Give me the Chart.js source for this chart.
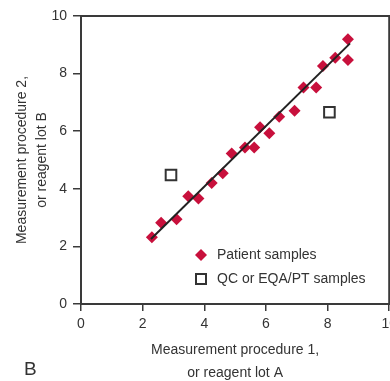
<!DOCTYPE html>
<html lang="en">
<head>
  <meta charset="UTF-8" />
  <title>Method comparison</title>
  <script src="https://cdn.jsdelivr.net/npm/chart.js"></script>
  <style>
    html, body { margin: 0; padding: 0; background: #fff; overflow: hidden; }
    /* canvas is a little wider than the window so the last x label gets cut like in the original */
    .wrap { position: relative; width: 390px; height: 381px; overflow: hidden; }
    .panel-label {
      position: absolute;
      left: 24px;
      top: 358px;
      font: 19px 'Liberation Sans', Arial, sans-serif;
      color: #333;
    }
  </style>
</head>
<body>
  <div class="wrap">
    <canvas id="chart" width="402" height="381"></canvas>
    <div class="panel-label">B</div>
  </div>

  <script>
    // values
    const patientX = [2.30, 2.60, 3.10, 3.48, 3.81, 4.24, 4.60, 4.89, 5.32, 5.62, 5.81, 6.11, 6.43, 6.93, 7.22, 7.63, 7.85, 8.25, 8.66, 8.66];
    const patientY = [2.32, 2.82, 2.94, 3.74, 3.66, 4.20, 4.54, 5.23, 5.43, 5.43, 6.14, 5.93, 6.50, 6.71, 7.52, 7.52, 8.26, 8.55, 9.19, 8.47];
    const qcX = [2.92, 8.06];
    const qcY = [4.48, 6.66];
    const fitX = [2.27, 8.73];
    const fitY = [2.26, 9.05];
    const axisTicks = [0, 2, 4, 6, 8, 10];

    const toPoints = (xs, ys) => xs.map((x, i) => ({ x: x, y: ys[i] }));

    const crimson = '#c8103c';
    const ink = '#333';
    const font = "'Liberation Sans', Arial, sans-serif";

    // box round the plot + legend inside it
    const frameAndLegend = {
      id: 'frameAndLegend',
      beforeDatasetsDraw(chart) {
        const { ctx, chartArea: a } = chart;
        ctx.save();
        ctx.strokeStyle = '#3a3a3a';
        ctx.lineWidth = 2;
        ctx.strokeRect(a.left, a.top, a.right - a.left, a.bottom - a.top);
        ctx.restore();
      },
      afterDraw(chart) {
        const ctx = chart.ctx;
        ctx.save();
        ctx.fillStyle = crimson;
        ctx.beginPath();
        ctx.moveTo(195, 255); ctx.lineTo(201, 249); ctx.lineTo(207, 255); ctx.lineTo(201, 261);
        ctx.closePath();
        ctx.fill();
        ctx.strokeStyle = ink;
        ctx.lineWidth = 2;
        ctx.fillStyle = '#fff';
        ctx.fillRect(196, 274, 10, 10);
        ctx.strokeRect(196, 274, 10, 10);
        ctx.fillStyle = ink;
        ctx.font = '14px ' + font;
        ctx.textBaseline = 'middle';
        ctx.fillText('Patient samples', 217, 255);
        ctx.fillText('QC or EQA/PT samples', 217, 279);
        ctx.restore();
      }
    };

    new Chart(document.getElementById('chart'), {
      type: 'scatter',
      data: {
        datasets: [
          {
            type: 'line',
            label: 'Fit',
            data: toPoints(fitX, fitY),
            borderColor: '#222',
            borderWidth: 2,
            pointRadius: 0,
            order: 0
          },
          {
            label: 'Patient samples',
            data: toPoints(patientX, patientY),
            pointStyle: 'rectRot',
            pointRadius: 6,
            backgroundColor: crimson,
            borderColor: crimson,
            borderWidth: 0,
            order: 1
          },
          {
            label: 'QC or EQA/PT samples',
            data: toPoints(qcX, qcY),
            pointStyle: 'rect',
            pointRadius: 7.5,
            backgroundColor: '#fff',
            borderColor: ink,
            borderWidth: 2,
            order: 1
          }
        ]
      },
      options: {
        responsive: false,
        animation: false,
        layout: { padding: { top: 16, right: 0, left: 0, bottom: 0 } },
        plugins: {
          legend: { display: false },
          tooltip: { enabled: false }
        },
        scales: {
          x: {
            type: 'linear',
            min: 0,
            max: 10,
            afterBuildTicks: (s) => { s.ticks = axisTicks.map(v => ({ value: v })); },
            afterFit: (s) => { s.height = 77; },
            grid: { drawOnChartArea: false, drawTicks: true, tickLength: 7, color: '#3a3a3a', lineWidth: 1.5 },
            border: { display: true, color: '#3a3a3a', width: 2 },
            ticks: { color: ink, padding: 5, font: { size: 14, family: font } },
            title: {
              display: true,
              text: ['Measurement procedure 1,', 'or reagent lot A'],
              color: ink,
              font: { size: 14, family: font, lineHeight: 1.6 },
              padding: { top: 0, bottom: -3 }
            }
          },
          y: {
            type: 'linear',
            min: 0,
            max: 10,
            afterBuildTicks: (s) => { s.ticks = axisTicks.map(v => ({ value: v })); },
            afterFit: (s) => { s.width = 81; },
            grid: { drawOnChartArea: false, drawTicks: true, tickLength: 8, color: '#3a3a3a', lineWidth: 1.5 },
            border: { display: true, color: '#3a3a3a', width: 2 },
            ticks: { color: ink, padding: 6, font: { size: 14, family: font } },
            title: {
              display: true,
              text: ['Measurement procedure 2,', 'or reagent lot B'],
              color: ink,
              font: { size: 14, family: font, lineHeight: 1.45 },
              padding: { top: 12, bottom: 0 }
            }
          }
        }
      },
      plugins: [frameAndLegend]
    });
  </script>
</body>
</html>
